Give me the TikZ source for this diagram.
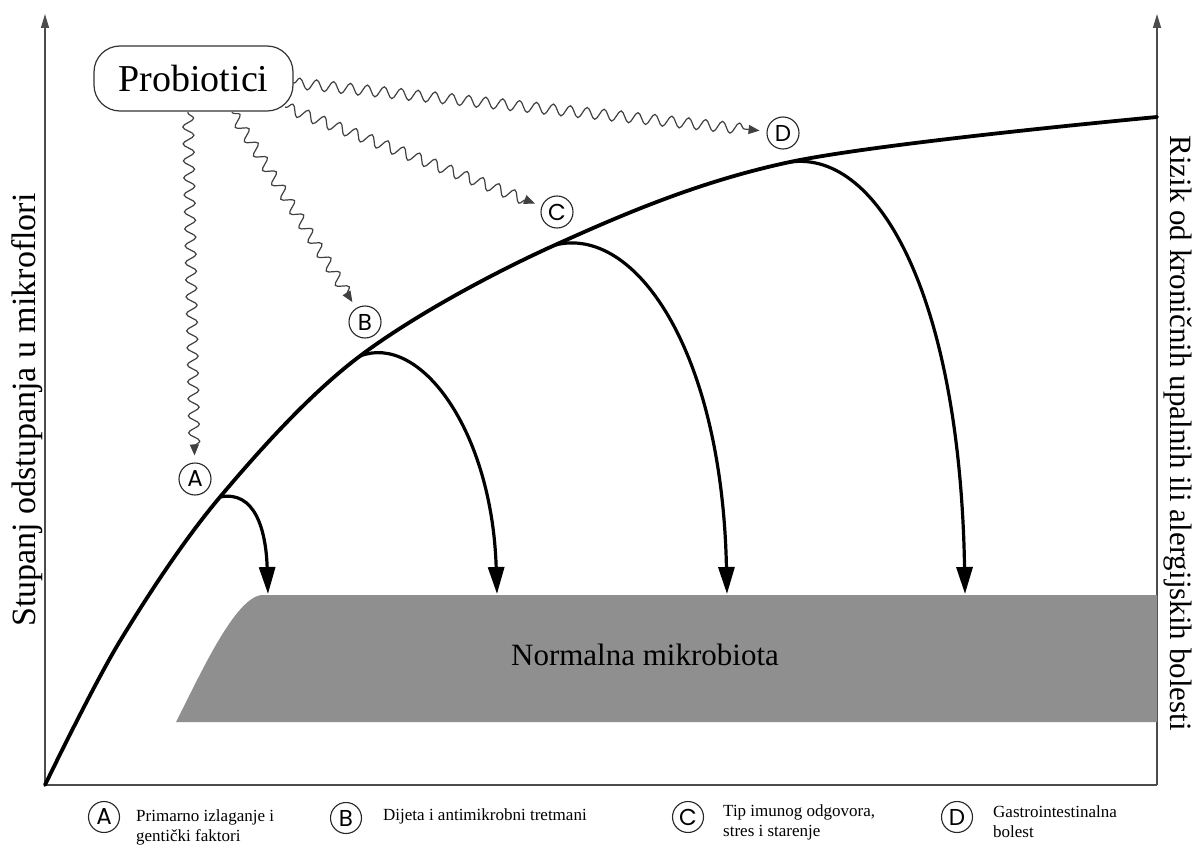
\documentclass[tikz,border=0pt]{standalone}
\usepackage{fontspec}
\setmainfont{Liberation Serif}
\newfontfamily\letterfont{Poppins}
\usetikzlibrary{arrows.meta,decorations.pathmorphing}
\begin{document}
\begin{tikzpicture}[x=1pt,y=-1pt,
  axis/.style={line width=1.5pt, draw=black!70, -{Triangle[length=14pt,width=8pt]}},
  curve/.style={line width=3.8pt, line cap=round},
  branch/.style={line width=3.2pt, -{Triangle[length=27pt,width=16pt]}},
  wave/.style={draw=black!75, line width=1.2pt, decorate,
    decoration={snake, amplitude=5.5pt, segment length=17pt, pre length=1pt, post length=14pt},
    -{Triangle[length=11pt,width=9pt]}},
  letter/.style={circle, draw=black!85, line width=1.1pt, minimum size=32pt, inner sep=0pt,
    font=\letterfont\fontsize{23}{23}\selectfont},
  legletter/.style={letter, minimum size=31pt},
  legtext/.style={anchor=west, align=left, inner sep=0pt, font=\fontsize{17}{20}\selectfont},
  probox/.style={draw=black!80, line width=1.2pt, rounded corners=26pt, minimum width=199pt,
    minimum height=65pt, font=\fontsize{38}{40}\selectfont}
]
\useasboundingbox (0,0) rectangle (1194,845);
\fill[white] (0,0) rectangle (1194,845);

% axes
\coordinate (o) at (45,785);
\coordinate (ytop) at (45,14);
\coordinate (br) at (1157,785);
\coordinate (rtop) at (1157,14);
\draw[axis] (o) -- (ytop);
\draw[axis] (br) -- (rtop);
\draw[line width=1.5pt, draw=black!70] (o) -- (br);

% band
\fill[black!44] (176,722) -- (1157,722) -- (1157,595) -- (262,595)
  .. controls (235,597) and (200,675) .. (176,722) -- cycle;
\node[font=\fontsize{31}{31}\selectfont] (norm) at (645,655) {Normalna mikrobiota};

% main curve and branch points
\coordinate (pA) at (220,497);
\coordinate (pB) at (360,356);
\coordinate (pC) at (555,245);
\coordinate (pD) at (790,162);
\coordinate (pE) at (1157,117);
\coordinate (q1) at (120,641);
\draw[curve] plot[smooth, tension=0.55] coordinates {(o) (q1) (pA) (pB) (pC) (pD) (pE)};

% arrow tips on band
\coordinate (tA) at (268,594);
\coordinate (tB) at (497,594);
\coordinate (tC) at (727,594);
\coordinate (tD) at (965,594);
\draw[branch] (pA) .. controls (255,490) and (266,530) .. (tA);
\draw[branch] (pB) .. controls (420,333) and (492,430) .. (tB);
\draw[branch] (pC) .. controls (635,225) and (722,350) .. (tC);
\draw[branch] (pD) .. controls (880,150) and (960,300) .. (tD);

% probiotici box
\node[probox] (pb) at (193.5,78.5) {Probiotici};

% letter circles
\node[letter] (cA) at (195,479) {A};
\node[letter] (cB) at (365,322) {B};
\node[letter] (cC) at (557,212) {C};
\node[letter] (cD) at (783,133) {D};

% wavy arrows
\coordinate (wA) at (188,112);
\coordinate (wB) at (232,112);
\coordinate (wC) at (285,107);
\coordinate (wD) at (293,83);
\draw[wave, shorten >=7pt] (wA) -- (cA);
\draw[wave, shorten >=7pt] (wB) -- (cB);
\draw[wave, shorten >=7pt] (wC) -- (cC);
\draw[wave, shorten >=7pt] (wD) -- (cD);

% axis labels
\node[rotate=90, font=\fontsize{34}{34}\selectfont] (ylab) at (27,410) {Stupanj odstupanja u mikroflori};
\node[rotate=-90, font=\fontsize{31}{31}\selectfont] (rlab) at (1178,433) {Rizik od kroničnih upalnih ili alergijskih bolesti};

% legend
\node[legletter] (lA) at (104,817) {A};
\node[legtext] (tlA) at (136,827) {Primarno izlaganje i\\gentički faktori};
\node[legletter] (lB) at (346,818) {B};
\node[legtext] (tlB) at (383,816) {Dijeta i antimikrobni tretmani};
\node[legletter] (lC) at (688,817) {C};
\node[legtext] (tlC) at (723,822) {Tip imunog odgovora,\\stres i starenje};
\node[legletter] (lD) at (957,817) {D};
\node[legtext] (tlD) at (993,822) {Gastrointestinalna\\bolest};
\end{tikzpicture}
\end{document}
